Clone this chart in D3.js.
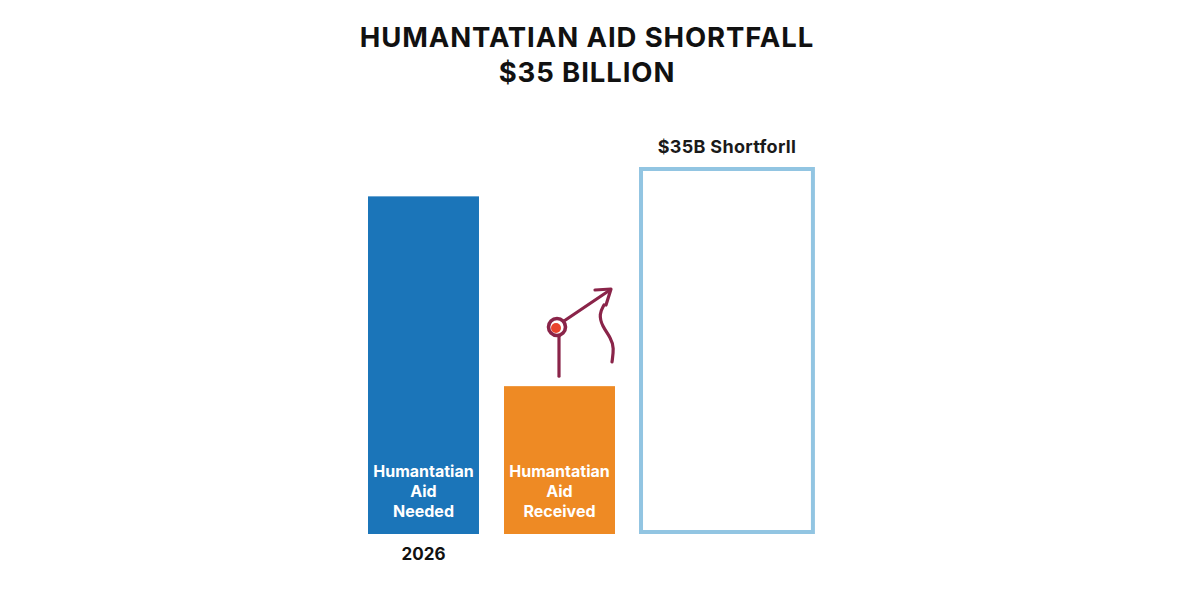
<!DOCTYPE html>
<html>
<head>
<meta charset="utf-8">
<script src="https://cdn.jsdelivr.net/npm/d3@7"></script>
<style>
	body { margin: 0; background: #fff; }
	text { font-family: Inter, "Liberation Sans", Arial, sans-serif; font-weight: bold; }
</style>
</head>
<body>
<div class="container"></div>
<script>
// chart values (billions, roughly)
var categories = ["needed", "received", "shortfall"];
var barLabels = [["Humantatian", "Aid", "Needed"], ["Humantatian", "Aid", "Received"], []];
var values = [32.2, 14.1, 35];
var yearLabel = "2026";
var shortfallLabel = "$35B Shortforll";
var titleLines = ["HUMANTATIAN AID SHORTFALL", "$35 BILLION"];

var colors = ["#1b75b9", "#ee8a24", "none"];
var outlineColor = "#92c5e2";
var arrowColor = "#8a2449";

var width = 1200, height = 600;
var baseY = 534;

var svg = d3.select('.container').append("svg")
	.attr("width", width)
	.attr("height", height);

var x = d3.scaleBand()
	.domain(categories)
	.range([368, 751])
	.paddingInner(0.184)
	.paddingOuter(0);

var y = d3.scaleLinear()
	.domain([0, 35])
	.range([baseY, 167]);

var wideFactor = 1.585; // the shortfall box is wider than the others

// title
svg.selectAll(".title")
	.data(titleLines)
	.enter().append("text")
	.attr("class", "title")
	.attr("x", 587)
	.attr("y", function (d, i) { return 47 + i * 35; })
	.attr("text-anchor", "middle")
	.attr("font-size", 27.5)
	.attr("letter-spacing", 0.9)
	.attr("fill", "#111")
	.text(function (d) { return d; });

// solid bars
svg.selectAll(".bar")
	.data(values.slice(0, 2))
	.enter().append("rect")
	.attr("class", "bar")
	.attr("x", function (d, i) { return x(categories[i]); })
	.attr("width", x.bandwidth())
	.attr("y", function (d) { return y(d); })
	.attr("height", function (d) { return baseY - y(d); })
	.attr("fill", function (d, i) { return colors[i]; });

// shortfall outline box
var sw = 4;
svg.append("rect")
	.attr("x", x(categories[2]) + sw / 2 - 1)
	.attr("y", y(values[2]) + sw / 2)
	.attr("width", x.bandwidth() * wideFactor - sw)
	.attr("height", baseY - y(values[2]) - sw)
	.attr("fill", "#fff")
	.attr("stroke", outlineColor)
	.attr("stroke-width", sw);

svg.append("text")
	.attr("x", x(categories[2]) + x.bandwidth() * wideFactor / 2 - 1)
	.attr("y", y(values[2]) - 14)
	.attr("text-anchor", "middle")
	.attr("font-size", 18)
	.attr("letter-spacing", 0.3)
	.attr("font-weight", 600)
	.attr("fill", "#1a1a1a")
	.text(shortfallLabel);

// labels inside bars
barLabels.forEach(function (lines, i) {
	svg.selectAll(".lbl" + i)
		.data(lines)
		.enter().append("text")
		.attr("x", x(categories[i]) + x.bandwidth() / 2)
		.attr("y", function (d, j) { return 477 + j * 20; })
		.attr("text-anchor", "middle")
		.attr("font-size", 16)
		.attr("fill", "#fff")
		.text(function (d) { return d; });
});

svg.append("text")
	.attr("x", x(categories[0]) + x.bandwidth() / 2)
	.attr("y", 560)
	.attr("text-anchor", "middle")
	.attr("font-size", 17)
	.attr("fill", "#111")
	.text(yearLabel);

// little pin + arrow doodle above the received bar
var top2 = y(values[1]);
var g = svg.append("g")
	.attr("fill", "none")
	.attr("stroke", arrowColor)
	.attr("stroke-width", 3.2)
	.attr("stroke-linecap", "round")
	.attr("stroke-linejoin", "round");

var line = d3.line().curve(d3.curveBasis);

g.append("path").attr("d", "M559," + (top2 - 10) + " L559,336");
g.append("circle").attr("cx", 557).attr("cy", 327).attr("r", 8.5).attr("stroke-width", 3.6);
g.append("path").attr("d", "M564,321 L610,290");
g.append("path").attr("d", "M595,290 L611,289 L606,305");
g.append("path").attr("d", line([[604, 305], [599, 314], [602, 326], [611, 338], [614, 348], [612, 362]]));

svg.append("circle")
	.attr("cx", 556)
	.attr("cy", 328)
	.attr("r", 5)
	.attr("fill", "#e9432c");
</script>
</body>
</html>
